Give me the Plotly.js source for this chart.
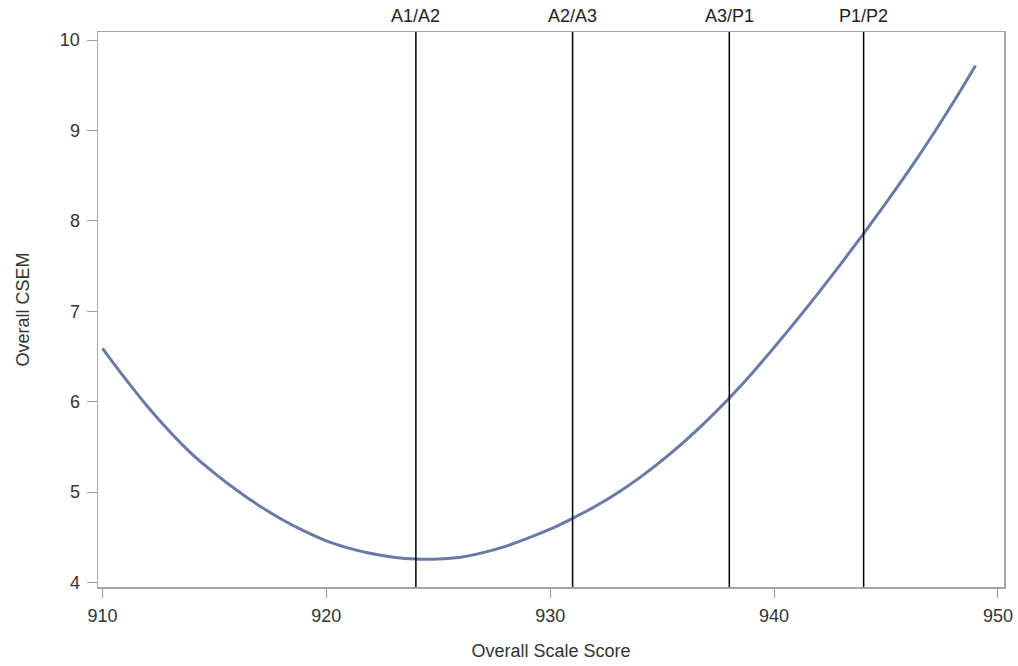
<!DOCTYPE html>
<html>
<head>
<meta charset="utf-8">
<script src="https://cdn.plot.ly/plotly-3.0.1.min.js"></script>
<style>html,body{margin:0;padding:0;background:#fff;}#chart{width:1018px;height:666px;}</style>
</head>
<body>
<div id="chart"></div>
<script>
const scaleScores = [910,911,912,913,914,915,916,917,918,919,920,921,922,923,924,925,926,927,928,929,930,931,932,933,934,935,936,937,938,939,940,941,942,943,944,945,946,947,948,949];
const csem = [6.59,6.26,5.95,5.67,5.42,5.21,5.02,4.85,4.70,4.57,4.46,4.38,4.32,4.28,4.26,4.26,4.28,4.33,4.40,4.49,4.59,4.71,4.84,4.99,5.16,5.35,5.56,5.79,6.04,6.31,6.60,6.90,7.21,7.53,7.86,8.20,8.55,8.92,9.31,9.72];
const cutScores = [924, 931, 938, 944];
const cutLabels = ["A1/A2", "A2/A3", "A3/P1", "P1/P2"];
const xTicks = [910, 920, 930, 940, 950];
const yTicks = [4, 5, 6, 7, 8, 9, 10];

const font = "Liberation Sans, Arial, sans-serif";

const traces = [{
  x: scaleScores, y: csem, type: "scatter", mode: "lines",
  line: {color: "#6a7aa6", width: 3, shape: "spline", smoothing: 1},
  hoverinfo: "skip", showlegend: false
}];

const shapes = cutScores.map(c => ({
  type: "line", xref: "x", yref: "paper", x0: c, x1: c, y0: 0, y1: 1,
  line: {color: "#000000", width: 1.5}
}));

const annotations = cutScores.map((c, i) => ({
  x: c, xref: "x", y: 1, yref: "paper", yanchor: "bottom", yshift: 4,
  text: cutLabels[i], showarrow: false,
  font: {family: font, size: 18, color: "#222"}
}));

const layout = {
  width: 1018, height: 666,
  margin: {l: 98, r: 14, t: 32, b: 79},
  paper_bgcolor: "#ffffff", plot_bgcolor: "#ffffff",
  font: {family: font, size: 18, color: "#333"},
  xaxis: {
    range: [909.8, 950.27], tickvals: xTicks, ticktext: xTicks.map(String),
    ticks: "outside", ticklen: 9, tickcolor: "#999", tickwidth: 1, ticklabelstandoff: 3,
    showgrid: false, zeroline: false, showline: true, linecolor: "#a6a6a6", linewidth: 1.5, mirror: true,
    tickfont: {family: font, size: 18, color: "#333"},
    title: {text: "Overall Scale Score", font: {family: font, size: 18, color: "#333"}, standoff: 19}
  },
  yaxis: {
    range: [3.95, 10.09], tickvals: yTicks, ticktext: yTicks.map(String),
    ticks: "outside", ticklen: 10, tickcolor: "#999", tickwidth: 1, ticklabelstandoff: 3,
    showgrid: false, zeroline: false, showline: true, linecolor: "#a6a6a6", linewidth: 1.5, mirror: true,
    tickfont: {family: font, size: 18, color: "#333"},
    title: {text: "Overall CSEM", font: {family: font, size: 18, color: "#333"}, standoff: 25}
  },
  shapes: shapes,
  annotations: annotations,
  showlegend: false
};

Plotly.newPlot("chart", traces, layout, {displayModeBar: false, staticPlot: true});
</script>
</body>
</html>
